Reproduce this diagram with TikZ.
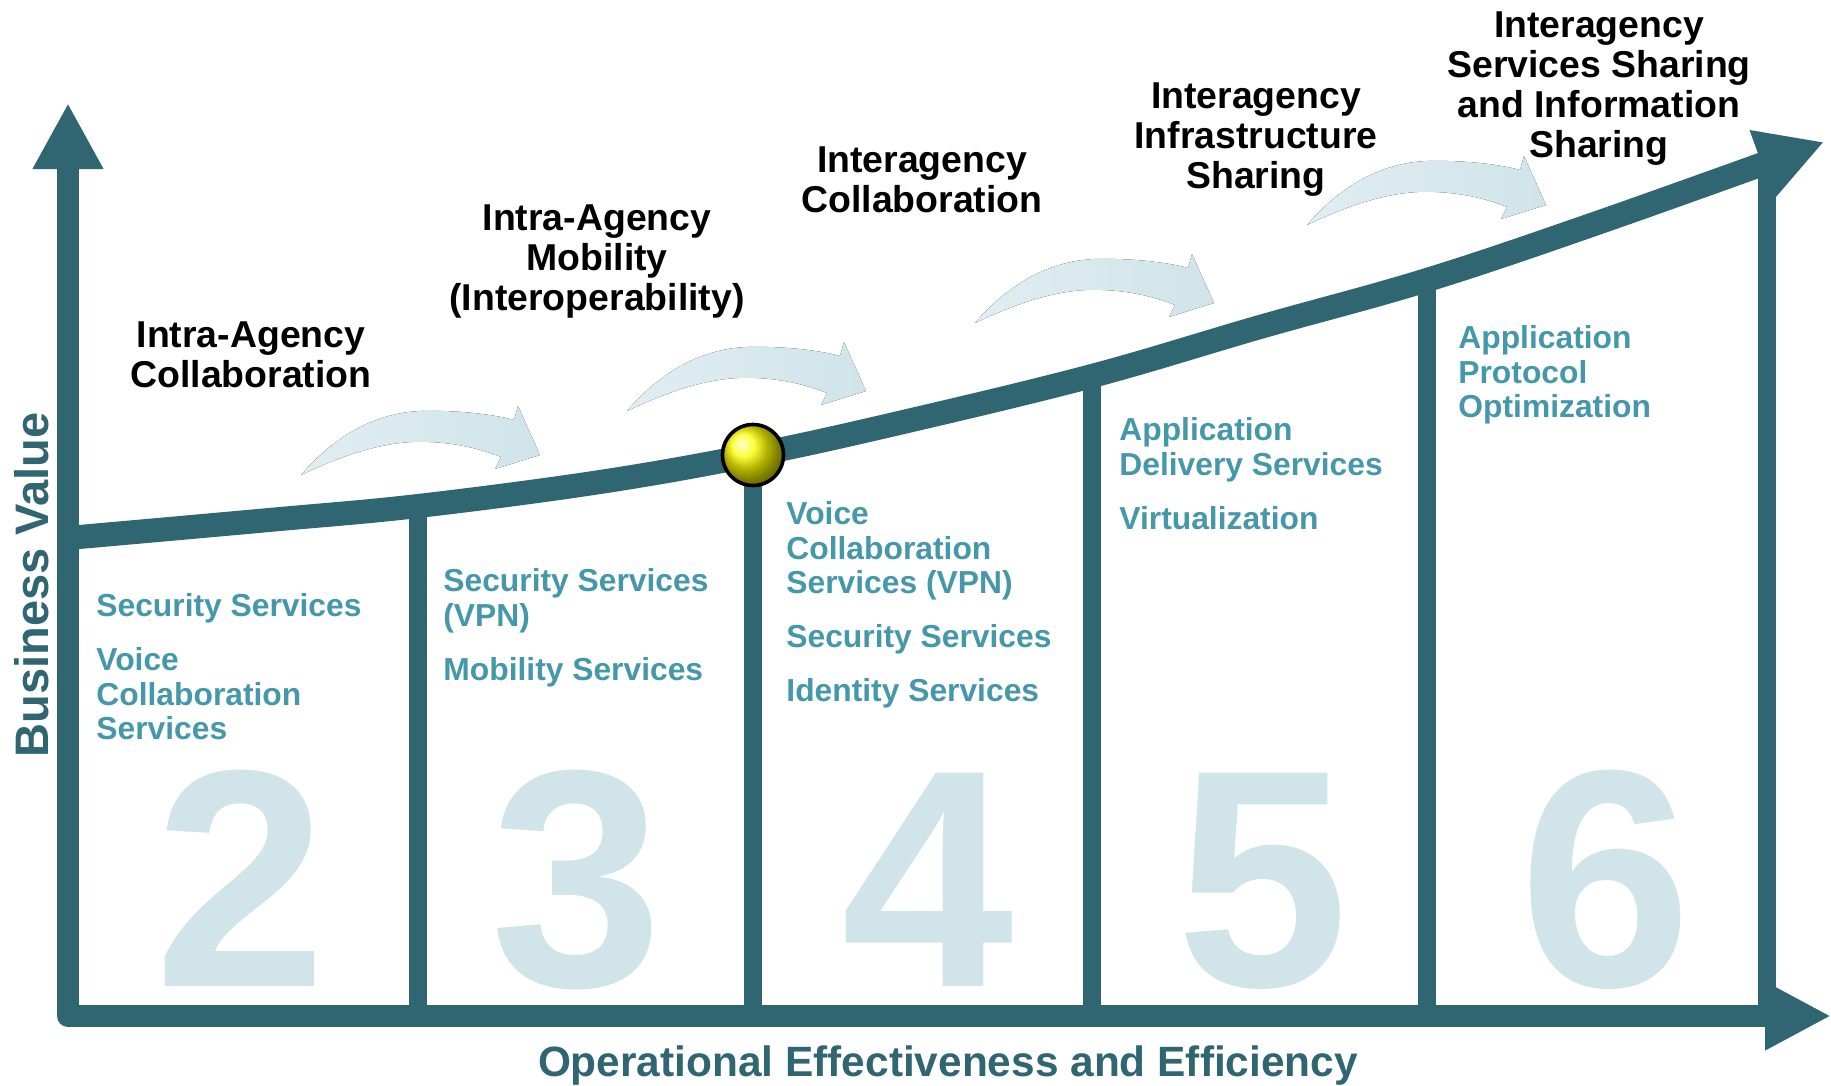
\documentclass[tikz,border=0pt]{standalone}
\usepackage{fontspec}
\setmainfont{Liberation Sans}
\usetikzlibrary{arrows.meta}

\definecolor{axisteal}{RGB}{47,102,114}
\definecolor{itemblue}{RGB}{69,151,170}
\definecolor{paleblue}{RGB}{208,228,234}

\begin{document}
\begin{tikzpicture}
    [
      x=0.5pt,y=-0.5pt,
      inner sep=0pt,
      phase/.style={align=center,anchor=north,
        font=\fontsize{18.7}{20}\selectfont\bfseries},
      items/.style={align=left,anchor=north west,text=itemblue,
        font=\fontsize{15.9}{17.3}\selectfont\bfseries},
      stage/.style={anchor=base,text=paleblue,
        font=\fontsize{155}{155}\selectfont\bfseries},
      axislabel/.style={anchor=base,text=axisteal},
      axisline/.style={line width=11pt,draw=axisteal,line join=round,
        {Triangle[length=33pt,width=33pt]}-{Triangle[length=33pt,width=32pt]}},
      valuecurve/.style={line width=12pt,draw=axisteal,line join=round,
        -{Triangle[length=33pt,width=34pt]}},
      divider/.style={line width=9pt,draw=axisteal},
      growth/.style={left color=paleblue!65!white,right color=paleblue},
      milestone/.style={circle,minimum size=30.5pt,ball color=yellow,
        draw=black,line width=1.8pt}
    ]

    \useasboundingbox (0,0) rectangle (1831,1086);

    \foreach \tx/\ty in {301/475, 627/411, 975/323, 1307/225}
      \fill[growth,shift={(\tx,\ty)}] (0,0)
        .. controls (30,-35) and (70,-62) .. (120,-64)
        .. controls (160,-65) and (195,-60) .. (213,-55)
        -- (217,-69) -- (239,-20) -- (194,-6) -- (200,-18)
        .. controls (170,-30) and (140,-34) .. (111,-33)
        .. controls (70,-31) and (30,-14) .. (0,0) -- cycle;

    \node at (241,986) [stage] (stage2) {2};
    \node at (577,986) [stage] (stage3) {3};
    \node at (928,986) [stage] (stage4) {4};
    \node at (1263,986) [stage] (stage5) {5};
    \node at (1606,986) [stage] (stage6) {6};

    \node at (251,321) [phase] (intracollab) {Intra-Agency\\Collaboration};
    \node at (597,204) [phase] (intramobility) {Intra-Agency\\Mobility\\(Interoperability)};
    \node at (922,146) [phase] (intercollab) {Interagency\\Collaboration};
    \node at (1256,82) [phase] (interinfra) {Interagency\\Infrastructure\\Sharing};
    \node at (1599,11) [phase] (interservices) {Interagency\\Services Sharing\\and Information\\Sharing};

    \node at (96,593) [items] (items2) {Security Services\\[9.7pt]Voice\\Collaboration\\Services};
    \node at (443,568) [items] (items3) {Security Services\\(VPN)\\[9.7pt]Mobility Services};
    \node at (786,501) [items] (items4) {Voice\\Collaboration\\Services (VPN)\\[9.7pt]Security Services\\[9.7pt]Identity Services};
    \node at (1119,417) [items] (items5) {Application\\Delivery Services\\[9.7pt]Virtualization};
    \node at (1458,325) [items] (items6) {Application\\Protocol\\Optimization};

    \node at (48,585) [axislabel,rotate=90,font=\fontsize{23.5}{26}\selectfont\bfseries] (yaxis) {Business Value};
    \node at (948,1076) [axislabel,font=\fontsize{21.2}{24}\selectfont\bfseries] (xaxis) {Operational Effectiveness and Efficiency};

    \coordinate (ytip) at (68,103);
    \coordinate (origin) at (68,1016);
    \coordinate (xtip) at (1831,1016);
    \foreach \name/\px/\py in {d1/418/506, d2/753/455, d3/1092/376, d4/1427/280, d5/1767/164}
      \coordinate (\name) at (\px,\py);

    \foreach \name in {d1,d2,d3,d4,d5}
      \draw [divider] (\name) -- (\name |- origin);
    \draw [axisline] (ytip) -- (origin) -- (xtip);
    \draw [valuecurve] plot [smooth,tension=0.6] coordinates
      {(68,538) (269,520) (418,506) (600,482) (753,455) (899,423)
       (1092,376) (1260,327) (1427,280) (1600,222) (1824,142)};

    \node at (d2) [milestone] (ball) {};
  \end{tikzpicture}
\end{document}
